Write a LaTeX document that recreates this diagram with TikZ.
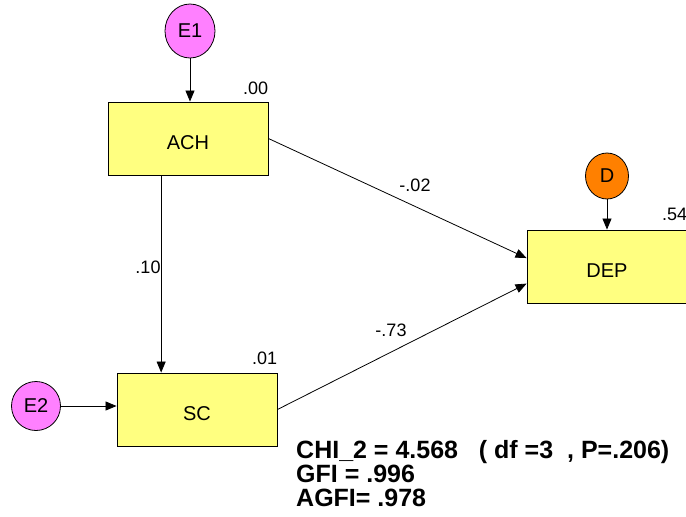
\documentclass[tikz,border=0pt]{standalone}
\usepackage{fontspec}
\setmainfont{Liberation Sans}
\usetikzlibrary{arrows.meta,shapes.geometric}
\definecolor{boxyellow}{RGB}{255,255,128}
\definecolor{errpink}{RGB}{255,128,255}
\definecolor{distorange}{RGB}{255,128,0}

\tikzset{
  obsbox/.style={draw, fill=boxyellow, minimum width=160pt, minimum height=73pt, line width=0.9pt, text height=21pt, text depth=0pt, font=\fontsize{20}{22}\selectfont},
  errnode/.style={ellipse, draw, line width=0.8pt, inner sep=0pt, font=\fontsize{20}{22}\selectfont},
  coef/.style={inner sep=0pt, font=\fontsize{18}{20}\selectfont},
  link/.style={-{Triangle[length=11pt,width=9pt]}, line width=0.8pt}
}

\begin{document}
\begin{tikzpicture}[x=1pt, y=-1pt]
\useasboundingbox (0,0) rectangle (686,517);

% observed variables
\node[obsbox] (ACH) at (188,138.5) {ACH};
\node[obsbox] (SC) at (197,409.5) {SC};
\node[obsbox] (DEP) at (607,266.5) {DEP};

% error terms
\node[errnode, fill=errpink, minimum width=50pt, minimum height=54pt] (E1) at (190,31) {E1};
\node[errnode, fill=errpink, minimum width=49pt, minimum height=49pt] (E2) at (36,406) {E2};
\node[errnode, fill=distorange, minimum width=43pt, minimum height=46pt] (D) at (607,176) {D};

% squared multiple correlations
\node[coef, anchor=base east] (rACH) at ([yshift=7pt]ACH.north east) {.00};
\node[coef, anchor=base east] (rSC) at ([yshift=8pt]SC.north east) {.01};
\node[coef, anchor=base east] (rDEP) at ([yshift=9pt]DEP.north east) {.54};

% paths
\draw[link] (E1.south) -- (E1.south |- ACH.north);
\draw[link] (E2.east) -- (E2.east -| SC.west);
\draw[link] (D.south) -- (D.south |- DEP.north);
\draw[link] (ACH.234) -- (ACH.234 |- SC.north);
\draw[link] (ACH.east) -- (DEP.174);
\draw[link] (SC.east) -- (DEP.192);

% path coefficients
\node[coef] (bAD) at (415,185) {-.02};
\node[coef] (bSD) at (391,330) {-.73};
\node[coef] (bAS) at (148,267) {.10};

% fit statistics
\node[anchor=base west, align=left, inner sep=0pt, font=\bfseries\fontsize{25}{24}\selectfont] (fit) at (296,506)
  {CHI\_2 = 4.568\ \ \ ( df =3\ \ , P=.206)\\GFI = .996\\AGFI= .978};

\end{tikzpicture}
\end{document}
